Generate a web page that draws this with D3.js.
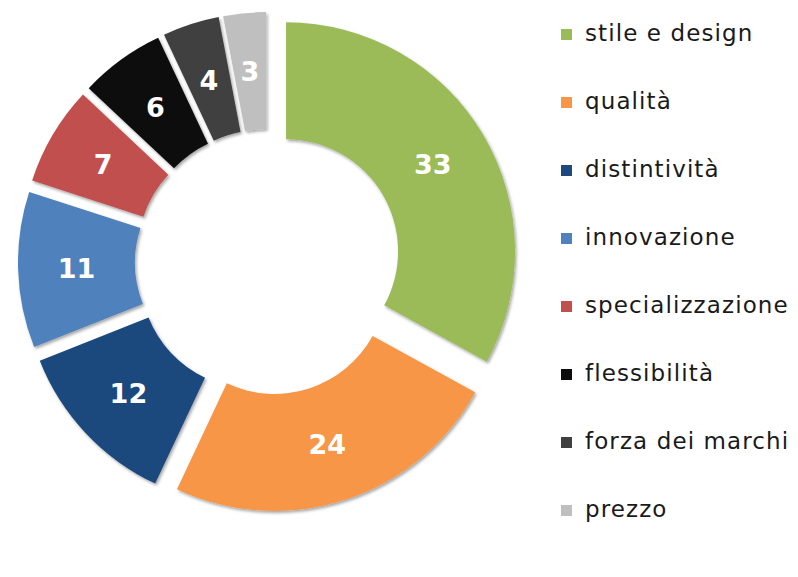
<!DOCTYPE html>
<html>
    <head>
        <script src="https://d3js.org/d3.v7.min.js"></script>
        <style>
            * {
                margin: 0;
                padding: 0;
            }

            body {
                background-color: #ffffff;
                overflow: hidden;
            }

            .legend text {
                font-family: 'DejaVu Sans', sans-serif;
                font-size: 23px;
                fill: #1a1a1a;
            }

            .label {
                font-family: 'DejaVu Sans', sans-serif;
                font-weight: bold;
                font-size: 27px;
                fill: #ffffff;
            }
        </style>
    </head>
    <body>
        <script>
            const categories = ['stile e design', 'qualità', 'distintività', 'innovazione', 'specializzazione', 'flessibilità', 'forza dei marchi', 'prezzo'];
            const values = [33, 24, 12, 11, 7, 6, 4, 3];
            const colors = ['#9bbb59', '#f79646', '#1f497d', '#4f81bd', '#c0504d', '#0d0d0d', '#404040', '#bfbfbf'];

            const width = 798;
            const height = 577;
            const cx = 268;
            const cy = 262;
            const outerR = 229;
            const innerR = 112;
            const explode = 21;

            const svg = d3.select('body').append('svg').attr('width', width).attr('height', height);

            const filter = svg.append('defs').append('filter').attr('id', 'shadow').attr('x', '-10%').attr('y', '-10%').attr('width', '130%').attr('height', '130%');
            filter.append('feDropShadow').attr('dx', 1.5).attr('dy', 2).attr('stdDeviation', 1.5).attr('flood-color', '#000').attr('flood-opacity', 0.35);

            const pie = d3.pie().sort(null).value((d) => d);
            const arcs = pie(values);
            const arc = d3.arc().innerRadius(innerR).outerRadius(outerR);

            // pull every slice outward along its mid angle
            function offset(d) {
                const a = (d.startAngle + d.endAngle) / 2;
                return [Math.sin(a) * explode, -Math.cos(a) * explode];
            }

            const chart = svg.append('g').attr('transform', `translate(${cx},${cy})`);

            const slice = chart
                .selectAll('g.slice')
                .data(arcs)
                .enter()
                .append('g')
                .attr('class', 'slice')
                .attr('transform', (d) => `translate(${offset(d)})`);

            slice
                .append('path')
                .attr('d', arc)
                .attr('fill', (d, i) => colors[i])
                .attr('filter', 'url(#shadow)');

            slice
                .append('text')
                .attr('class', 'label')
                .attr('transform', (d) => `translate(${arc.centroid(d)})`)
                .attr('text-anchor', 'middle')
                .attr('dy', '0.36em')
                .text((d) => d.data);

            const legend = svg
                .append('g')
                .attr('class', 'legend')
                .selectAll('g')
                .data(categories)
                .enter()
                .append('g')
                .attr('transform', (d, i) => `translate(561,${34 + i * 68})`);

            legend
                .append('rect')
                .attr('x', 0)
                .attr('y', -5)
                .attr('width', 11)
                .attr('height', 11)
                .attr('fill', (d, i) => colors[i]);

            legend
                .append('text')
                .attr('x', 24)
                .attr('dy', '0.32em')
                .attr('letter-spacing', 1.1)
                .text((d) => d);
        </script>
    </body>
</html>
